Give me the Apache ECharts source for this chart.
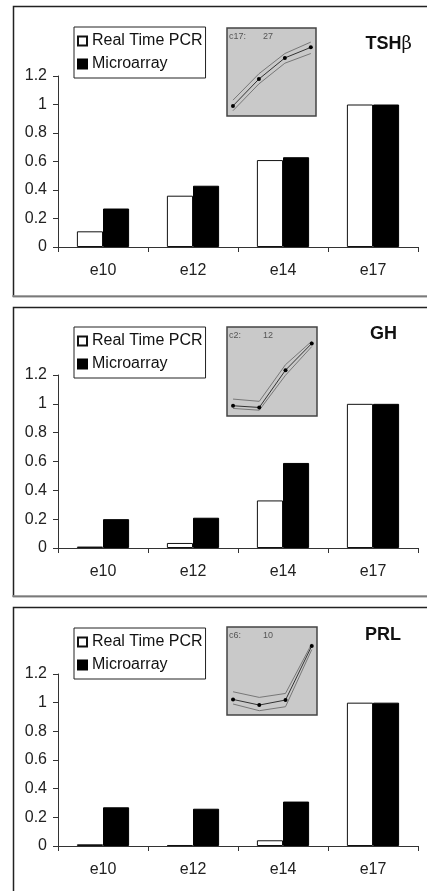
<!DOCTYPE html>
<html>
<head>
<meta charset="utf-8">
<script src="https://cdn.jsdelivr.net/npm/echarts@6/dist/echarts.min.js"></script>
<style>
html,body{margin:0;padding:0;background:#fff;}
#c{width:427px;height:891px;}
</style>
</head>
<body>
<div id="c"></div>
<script>
// ---- data ----
var categories = ['e10', 'e12', 'e14', 'e17'];
var yTicks = [0, 0.2, 0.4, 0.6, 0.8, 1, 1.2];
var panelTitles = ['TSH', 'GH', 'PRL'];
var seriesNames = ['Real Time PCR', 'Microarray'];

var tshPCR = [0.11, 0.36, 0.61, 1];
var tshArray = [0.27, 0.43, 0.63, 1];
var ghPCR = [0.01, 0.035, 0.33, 1];
var ghArray = [0.20, 0.21, 0.59, 1];
var prlPCR = [0.012, 0.007, 0.04, 1];
var prlArray = [0.27, 0.26, 0.31, 1];

// inset cluster profiles (relative scale 0-100)
var insetX = [0, 1, 2, 3];
var inset1Mid = [11.5, 42, 66, 78];
var inset1Up = [18, 48, 71, 84];
var inset1Low = [6, 36.5, 60, 71];
var inset2Mid = [11.5, 9.6, 51.5, 81.5];
var inset2Up = [19, 16.5, 57.7, 84];
var inset2Low = [8.5, 6.5, 45.8, 78];
var inset3Mid = [17.7, 11.3, 17, 78.5];
var inset3Up = [26.4, 20, 24.5, 81];
var inset3Low = [12.5, 4.9, 9.4, 74.3];
var insetLabels = [['c17:', '27'], ['c2:', '12'], ['c6:', '10']];

// ---- layout ----
var FONT = 'Arial, "Liberation Sans", sans-serif';
var grids = [
  {left: 58, top: 76, width: 360, height: 171},
  {left: 58, top: 375, width: 360, height: 173},
  {left: 58, top: 674, width: 360, height: 172}
];
var insetGrids = [
  {left: 227, top: 28, width: 89, height: 88},
  {left: 227, top: 327, width: 90, height: 89},
  {left: 227, top: 627, width: 90, height: 88}
];
var legendPos = [{left: 74, top: 27}, {left: 74, top: 327}, {left: 74, top: 628}];
var titlePos = [{right: 10, top: 30}, {right: 25, top: 320}, {right: 21, top: 621}];
var framesY = [[4, 294], [305, 594], [605, 900]];

var pcr = [tshPCR, ghPCR, prlPCR];
var arr = [tshArray, ghArray, prlArray];
var insetData = [
  [inset1Mid, inset1Up, inset1Low],
  [inset2Mid, inset2Up, inset2Low],
  [inset3Mid, inset3Up, inset3Low]
];

function pairs(xs, ys) { return ys.map(function (v, i) { return [xs[i], v]; }); }

var option = {
  animation: false,
  backgroundColor: '#fff',
  grid: [], xAxis: [], yAxis: [], series: [], legend: [], title: [], graphic: []
};

for (var p = 0; p < 3; p++) {
  var bi = 2 * p;      // bar grid / axis index
  var gi = 2 * p + 1;  // inset grid / axis index
  option.grid.push(Object.assign({containLabel: false}, grids[p]));
  option.xAxis.push({
    type: 'category', gridIndex: bi, data: categories,
    axisLine: {lineStyle: {color: '#333', width: 1}},
    axisTick: {show: true, length: 5, lineStyle: {color: '#333'}},
    axisLabel: {color: '#222', fontSize: 16, fontFamily: FONT, margin: 16},
    splitLine: {show: false}
  });
  option.yAxis.push({
    type: 'value', gridIndex: bi, min: yTicks[0], max: yTicks[yTicks.length - 1], interval: 0.2,
    axisLine: {show: true, lineStyle: {color: '#333', width: 1}},
    axisTick: {show: true, length: 5, lineStyle: {color: '#333'}},
    axisLabel: {color: '#222', fontSize: 16, fontFamily: FONT, margin: 11},
    splitLine: {show: false}
  });

  option.grid.push(Object.assign({show: true, backgroundColor: '#c9c9c9', borderColor: '#444', borderWidth: 1.5, z: 5}, insetGrids[p]));
  option.xAxis.push({type: 'value', gridIndex: gi, min: -0.23, max: 3.2, show: false});
  option.yAxis.push({type: 'value', gridIndex: gi, min: 0, max: 100, show: false});

  option.series.push({
    name: seriesNames[0], type: 'bar', xAxisIndex: bi, yAxisIndex: bi, data: pcr[p],
    barGap: '0%', barCategoryGap: '42%',
    itemStyle: {color: '#fff', borderColor: '#111', borderWidth: 1}
  });
  option.series.push({
    name: seriesNames[1], type: 'bar', xAxisIndex: bi, yAxisIndex: bi, data: arr[p],
    barGap: '0%', barCategoryGap: '42%',
    itemStyle: {color: '#000', borderColor: '#000', borderWidth: 1}
  });
  option.legend.push({
    left: legendPos[p].left, top: legendPos[p].top, orient: 'vertical',
    data: seriesNames, icon: 'rect', itemWidth: 9, itemHeight: 9, itemGap: 5, itemTextGap: 3,
    padding: [5, 3, 5, 3], borderColor: '#222', borderWidth: 1, backgroundColor: '#fff',
    selectedMode: false,
    textStyle: {color: '#111', fontSize: 16, fontFamily: FONT, lineHeight: 18}
  });
  option.title.push({
    text: p === 0 ? '{b|TSH}{g|β}' : '{b|' + panelTitles[p] + '}',
    right: titlePos[p].right, top: titlePos[p].top,
    textStyle: {
      rich: {
        b: {fontSize: 18, fontWeight: 'bold', color: '#111', fontFamily: FONT},
        g: {fontSize: 18, fontWeight: 'normal', color: '#111', fontFamily: '"DejaVu Serif", serif'}
      }
    }
  });

  var d = insetData[p];
  option.series.push({
    type: 'line', xAxisIndex: gi, yAxisIndex: gi, data: pairs(insetX, d[1]),
    symbol: 'none', lineStyle: {color: '#777', width: 1}, silent: true, z: 6
  });
  option.series.push({
    type: 'line', xAxisIndex: gi, yAxisIndex: gi, data: pairs(insetX, d[2]),
    symbol: 'none', lineStyle: {color: '#777', width: 1}, silent: true, z: 6
  });
  option.series.push({
    type: 'line', xAxisIndex: gi, yAxisIndex: gi, data: pairs(insetX, d[0]),
    symbol: 'circle', symbolSize: 4, itemStyle: {color: '#000'},
    lineStyle: {color: '#333', width: 1}, silent: true, z: 7
  });
  option.graphic.push({
    type: 'text', left: insetGrids[p].left + 2, top: insetGrids[p].top + 4, z: 20,
    style: {text: insetLabels[p][0], fontSize: 9, fontFamily: FONT, fill: '#555'}
  });
  option.graphic.push({
    type: 'text', left: insetGrids[p].left + 36, top: insetGrids[p].top + 4, z: 20,
    style: {text: insetLabels[p][1], fontSize: 9, fontFamily: FONT, fill: '#555'}
  });

  // panel frame
  option.graphic.push({
    type: 'rect', left: 11, top: framesY[p][0], silent: true, z: -10,
    shape: {width: 430, height: framesY[p][1] - framesY[p][0]},
    style: {fill: 'none', stroke: '#222', lineWidth: 1.5}
  });
  option.graphic.push({
    type: 'line', silent: true, z: -10,
    shape: {x1: 12, y1: framesY[p][1] + 2, x2: 440, y2: framesY[p][1] + 2},
    style: {stroke: '#999', lineWidth: 1.5}
  });
}

var chart = echarts.init(document.getElementById('c'), null, {renderer: 'canvas'});
chart.setOption(option);
</script>
</body>
</html>
